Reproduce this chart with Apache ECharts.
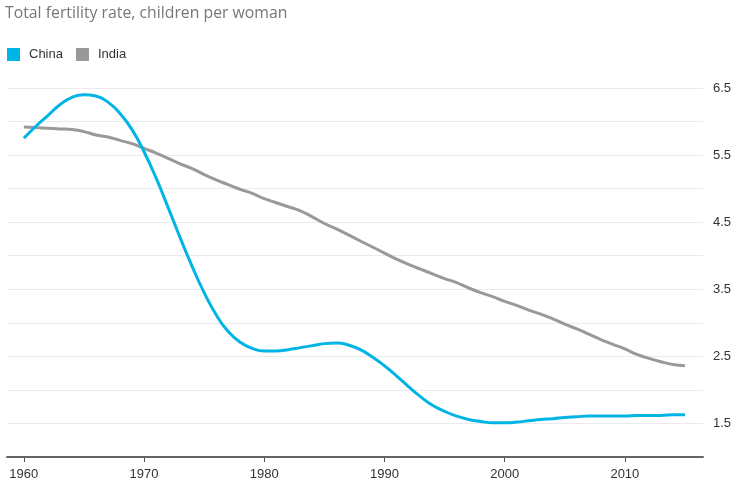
<!DOCTYPE html>
<html><head><meta charset="utf-8">
<script src="https://cdn.jsdelivr.net/npm/echarts@6/dist/echarts.min.js"></script>
<style>html,body{margin:0;padding:0;background:#fff}#c{width:741px;height:492px}</style>
</head><body><div id="c"></div>
<script>
const years = [];
for (let y = 1960; y <= 2015; y++) years.push(y);
const china = [5.75,5.93,6.09,6.25,6.36,6.40,6.38,6.29,6.12,5.88,5.55,5.16,4.72,4.27,3.84,3.45,3.12,2.87,2.71,2.62,2.58,2.58,2.60,2.63,2.66,2.69,2.70,2.67,2.60,2.49,2.36,2.21,2.05,1.90,1.77,1.68,1.61,1.56,1.53,1.51,1.51,1.52,1.54,1.56,1.57,1.59,1.60,1.61,1.61,1.61,1.61,1.62,1.62,1.62,1.63,1.63];
const india = [5.92,5.91,5.90,5.89,5.88,5.85,5.80,5.77,5.72,5.67,5.60,5.53,5.45,5.37,5.30,5.21,5.13,5.06,4.99,4.93,4.85,4.79,4.73,4.67,4.58,4.48,4.40,4.31,4.22,4.13,4.04,3.95,3.87,3.80,3.73,3.66,3.60,3.52,3.45,3.39,3.32,3.26,3.19,3.13,3.06,2.98,2.91,2.83,2.75,2.68,2.61,2.53,2.47,2.42,2.38,2.36];
const xTicks = [1960,1970,1980,1990,2000,2010];
const yLabels = [1.5,2.5,3.5,4.5,5.5,6.5];
const pair = arr => years.map((y,i)=>[y,arr[i]]);
const chart = echarts.init(document.getElementById('c'));
chart.setOption({
  animation:false,
  title:{text:'Total fertility rate, children per woman',left:5,top:5,padding:0,textStyle:{fontFamily:'Open Sans',fontSize:15.8,fontWeight:'normal',color:'#777'}},
  legend:{left:7,top:48,padding:0,itemWidth:13,itemHeight:13,itemGap:13,icon:'rect',textStyle:{fontFamily:'Liberation Sans',fontSize:13,color:'#333',padding:[0,0,0,4]},data:['China','India']},
  grid:{left:7,right:38,top:88,bottom:35,containLabel:false},
  xAxis:{type:'value',min:1958.6,max:2016.5,
    axisLine:{lineStyle:{color:'#666',width:2}},
    axisTick:{show:true,customValues:xTicks,length:5,lineStyle:{color:'#555'}},
    axisLabel:{customValues:xTicks,formatter:v=>String(v),fontFamily:'Liberation Sans',fontSize:13,color:'#333',margin:11},
    splitLine:{show:false}},
  yAxis:{type:'value',position:'right',min:1,max:6.5,interval:0.5,
    axisLine:{show:false},axisTick:{show:false},
    axisLabel:{fontFamily:'Liberation Sans',fontSize:13,color:'#333',margin:10,
      formatter:v=>yLabels.some(t=>Math.abs(t-v)<1e-6)?v.toFixed(1):''},
    splitLine:{lineStyle:{color:'#ebebeb',width:1}}},
  series:[
    {name:'China',type:'line',data:pair(china),smooth:true,showSymbol:false,lineStyle:{color:'#00b5e6',width:3},itemStyle:{color:'#00b5e6'},z:3},
    {name:'India',type:'line',data:pair(india),smooth:true,showSymbol:false,lineStyle:{color:'#999',width:3},itemStyle:{color:'#999'},z:2}
  ]
});
</script></body></html>
